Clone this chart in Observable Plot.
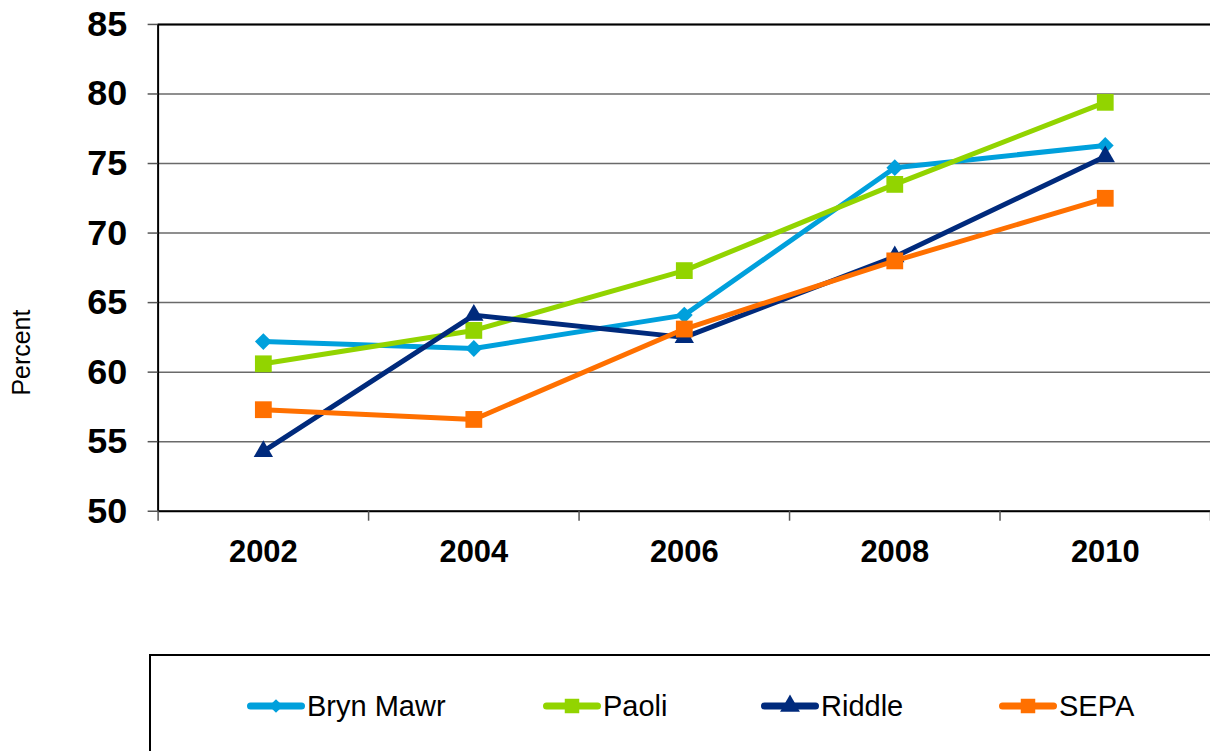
<!DOCTYPE html>
<html><head><meta charset="utf-8">
<script src="https://cdn.jsdelivr.net/npm/d3@7"></script>
<script src="https://cdn.jsdelivr.net/npm/@observablehq/plot@0.6"></script>
<style>
html,body{margin:0;padding:0;background:#fff;overflow:hidden;width:1210px;height:751px;}
#wrap{position:relative;width:1210px;height:751px;overflow:hidden;font-family:Arial,"Liberation Sans",sans-serif;}
#chart{position:absolute;left:0;top:0;}
#legend{position:absolute;left:149px;top:654px;width:1200px;height:200px;border:2px solid #000;box-sizing:border-box;background:#fff;}
.item{position:absolute;top:30px;height:40px;display:flex;align-items:center;font-size:29px;color:#000;white-space:nowrap;}
.item svg{display:block;margin-right:2px;}
</style>
</head><body>
<div id="wrap"><div id="chart"></div><div id="legend"></div></div>
<script>
const years = [2002, 2004, 2006, 2008, 2010];
const seriesNames = ["Bryn Mawr", "Paoli", "Riddle", "SEPA"];
const brynMawr = [62.2, 61.7, 64.1, 74.7, 76.3];
const paoli = [60.6, 63.0, 67.3, 73.5, 79.4];
const riddle = [54.3, 64.1, 62.5, 68.3, 75.5];
const sepa = [57.3, 56.6, 63.1, 68.0, 72.5];
const yTicks = [50, 55, 60, 65, 70, 75, 80, 85];
const xBounds = [2001, 2003, 2005, 2007, 2009, 2011];

const colors = ["#00A0DC", "#92D400", "#002A7C", "#FF7000"];
const symbols = ["diamond2", "square", "triangle", "square"];
const radii = [7.6, 9.5, 7.2, 9.5];
const values = [brynMawr, paoli, riddle, sepa];

const rows = seriesNames.flatMap((s, i) => years.map((y, j) => ({series: s, year: y, value: values[i][j]})));

const seriesMarks = seriesNames.flatMap((s, i) => {
  const d = rows.filter(r => r.series === s);
  return [
    Plot.line(d, {x: "year", y: "value", stroke: colors[i], strokeWidth: 5, strokeLinejoin: "round"}),
    Plot.dot(d, {x: "year", y: "value", symbol: symbols[i], r: radii[i], fill: colors[i], stroke: "none"})
  ];
});

const chart = Plot.plot({
  width: 1213,
  height: 600,
  marginTop: 24,
  marginBottom: 88,
  marginLeft: 158,
  marginRight: 0,
  x: {type: "linear", domain: [2001, 2011]},
  y: {domain: [50, 85]},
  style: {fontFamily: "Arial, 'Liberation Sans', sans-serif", color: "black", background: "white"},
  marks: [
    Plot.gridY(yTicks, {stroke: "#6a6a6a", strokeOpacity: 1, strokeWidth: 1.5}),
    Plot.ruleY([85], {stroke: "black", strokeWidth: 2}),
    Plot.ruleY([50], {stroke: "black", strokeWidth: 2}),
    Plot.ruleX([2001], {stroke: "black", strokeWidth: 2}),
    Plot.axisY(yTicks, {tickSize: 10, tickPadding: 21, fontSize: 36, fontWeight: "bold", stroke: "#555", strokeWidth: 1.5, label: null, tickFormat: d => String(d)}),
    Plot.axisX(xBounds, {tickSize: 10, tickFormat: () => "", stroke: "#555", strokeWidth: 1.5, label: null}),
    Plot.axisX(years, {tickSize: 0, tickPadding: 29, fontSize: 31, fontWeight: "bold", label: null, tickFormat: d => String(d)}),
    Plot.text(["Percent"], {frameAnchor: "left", textAnchor: "middle", dx: -136, dy: 85, rotate: -90, fontSize: 25, fill: "black"}),
    ...seriesMarks
  ]
});
document.getElementById("chart").appendChild(chart);

// legend
const legend = document.getElementById("legend");
const legendLeft = [96, 392, 610, 848];
seriesNames.forEach((s, i) => {
  const item = document.createElement("div");
  item.className = "item";
  item.style.left = legendLeft[i] + "px";
  const svg = d3.create("svg").attr("width", 58).attr("height", 24);
  svg.append("line").attr("x1", 3.5).attr("x2", 54.5).attr("y1", 12).attr("y2", 12)
    .attr("stroke", colors[i]).attr("stroke-width", 7).attr("stroke-linecap", "round");
  const symMap = {diamond2: d3.symbolDiamond2, square: d3.symbolSquare, triangle: d3.symbolTriangle};
  const sizes = {diamond2: 120, square: 210, triangle: 170};
  svg.append("path").attr("transform", "translate(29,12)")
    .attr("d", d3.symbol(symMap[symbols[i]], sizes[symbols[i]])())
    .attr("fill", colors[i]);
  item.appendChild(svg.node());
  const t = document.createElement("span");
  t.textContent = s;
  item.appendChild(t);
  legend.appendChild(item);
});
</script>
</body></html>
